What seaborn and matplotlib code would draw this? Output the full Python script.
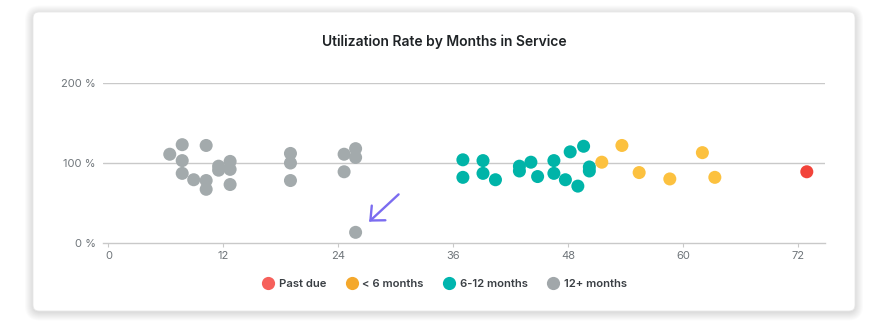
import matplotlib
matplotlib.use("Agg")
import matplotlib.pyplot as plt
from matplotlib.patches import FancyBboxPatch, FancyArrowPatch
from matplotlib.lines import Line2D
import numpy as np
import pandas as pd
import seaborn as sns

# ---- data ----
groups = ["Past due", "< 6 months", "6-12 months", "12+ months"]

months_past_due = [72.9]
util_past_due = [89]

months_lt6 = [51.5, 53.6, 55.4, 58.6, 62.0, 63.3]
util_lt6 = [101, 122, 88, 80, 113, 82]

months_6_12 = [37.0, 37.0, 39.1, 39.1, 40.4, 42.9, 42.9, 44.1, 44.8,
               46.5, 46.5, 47.7, 48.2, 49.0, 49.6, 50.2, 50.2]
util_6_12 = [104, 82, 103, 87, 79, 96, 90, 101, 83,
             103, 87, 79, 114, 71, 121, 95, 90]

months_12p = [6.4, 7.7, 7.7, 7.7, 8.9, 10.2, 10.2, 10.2, 11.5, 11.5,
              12.7, 12.7, 12.7, 19.0, 19.0, 19.0, 24.6, 24.6, 25.8, 25.8, 25.8]
util_12p = [111, 123, 103, 87, 79, 122, 78, 67, 96, 91,
            102, 92, 73, 112, 100, 78, 111, 89, 118, 107, 13]

x_ticks = [0, 12, 24, 36, 48, 60, 72]
y_ticks = [0, 100, 200]
y_tick_labels = ["0 %", "100 %", "200 %"]

# outlier callout arrow (tail -> head), data coords
arrow_tail = (30.5, 63)
arrow_head = (27.0, 24)

point_colors = ["#f2433a", "#fcc13f", "#00b4a8", "#a3aaac"]
legend_colors = ["#f6605b", "#f4a82c", "#00b5ae", "#a1a7aa"]

df = pd.concat([
    pd.DataFrame({"months": m, "util": u, "group": g})
    for m, u, g in [
        (months_past_due, util_past_due, groups[0]),
        (months_lt6, util_lt6, groups[1]),
        (months_6_12, util_6_12, groups[2]),
        (months_12p, util_12p, groups[3]),
    ]
], ignore_index=True)

# ---- style ----
sns.set_theme(style="white")
plt.rcParams["font.family"] = ["Inter", "DejaVu Sans"]

W, H = 889, 323
fig = plt.figure(figsize=(W / 100, H / 100), dpi=100)
fig.patch.set_facecolor("white")

# card background with soft shadow
bg = fig.add_axes([0, 0, 1, 1], zorder=-10)
bg.set_xlim(0, W)
bg.set_ylim(H, 0)
bg.axis("off")
cx, cy, cw, ch = 33, 12, 822, 299
for i in range(9, 0, -1):
    bg.add_patch(FancyBboxPatch((cx - i + 1, cy - i + 2.5), cw + 2 * i - 2, ch + 2 * i - 2,
                                boxstyle=f"round,pad=0,rounding_size={6 + i}",
                                fc="black", ec="none", alpha=0.014))
bg.add_patch(FancyBboxPatch((cx, cy), cw, ch, boxstyle="round,pad=0,rounding_size=6",
                            fc="white", ec="#e8e8e8", lw=0.6))

# plot area
ax = fig.add_axes([102.7 / W, 1 - 242.7 / H, (825 - 102.7) / W, (242.7 - 83.3) / H])
ax.patch.set_alpha(0)

sns.scatterplot(data=df, x="months", y="util", hue="group", hue_order=groups,
                palette=point_colors, s=88, edgecolor="none", linewidth=0,
                legend=False, ax=ax, clip_on=False, zorder=3)

ax.set_xlim(-0.6, 74.8)
ax.set_ylim(0, 200)
ax.set_xticks(x_ticks)
ax.set_xticklabels([str(t) for t in x_ticks])
ax.set_yticks(y_ticks)
ax.set_yticklabels(y_tick_labels)
ax.set_xlabel("")
ax.set_ylabel("")

for s in ["top", "right", "left"]:
    ax.spines[s].set_visible(False)
ax.spines["bottom"].set_color("#c9c9c9")
ax.spines["bottom"].set_linewidth(1)
for yv in y_ticks[1:]:
    ax.axhline(yv, color="#c9c9c9", lw=1, zorder=1)

ax.tick_params(axis="x", length=3, width=0.8, color="#c9c9c9", labelsize=8,
               labelcolor="#6f757a", pad=3, direction="out")
ax.tick_params(axis="y", length=0, labelsize=8, labelcolor="#6f757a", pad=5)
ax.xaxis.set_ticks_position("bottom")

ax.add_patch(FancyArrowPatch(arrow_tail, arrow_head,
                             arrowstyle="->,head_length=4,head_width=3.6",
                             color="#7b6cf0", lw=1.7, mutation_scale=2.0, zorder=4,
                             clip_on=False, capstyle="round", joinstyle="miter"))

fig.text(444 / W, 1 - 42 / H, "Utilization Rate by Months in Service",
         ha="center", va="center", fontsize=10, fontweight="semibold", color="#1f2326")

handles = [Line2D([], [], marker="o", ls="none", markersize=9.5, markerfacecolor=c,
                  markeredgecolor="none") for c in legend_colors]
fig.legend(handles, groups, loc="center", bbox_to_anchor=(444 / W, 1 - 284 / H), ncol=4,
           frameon=False, handletextpad=0.35, columnspacing=1.65,
           handlelength=1.2, labelcolor="#3a3f44", prop={"weight": "semibold", "size": 8.1})

fig.savefig("out.png", dpi=100, facecolor="white")
